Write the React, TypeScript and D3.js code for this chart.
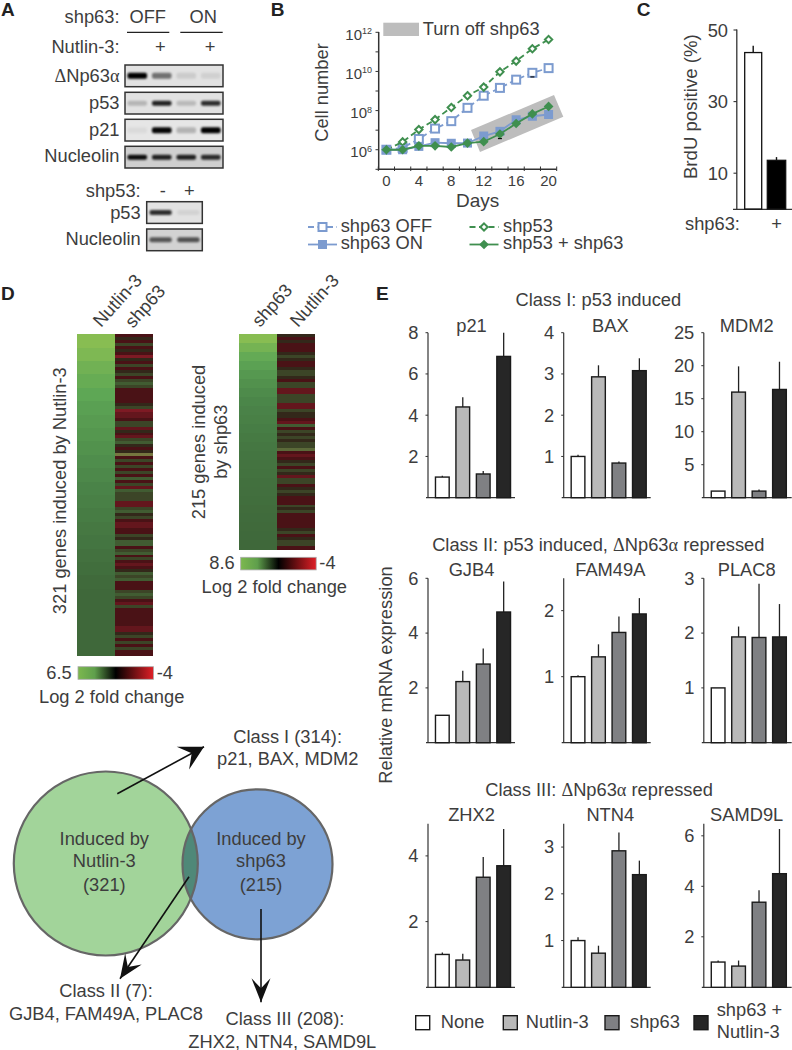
import * as d3 from 'd3'

const FONT = '"Liberation Sans", Arial, sans-serif'
const INK = '#3d3d3d'

// panel A, band strength per lane
const blotLanes = [0, 1, 2, 3]
const dnp63Bands = [1, 0.5, 0.1, 0.08]
const p53Bands = [0.2, 0.85, 0.18, 0.8]
const p21Bands = [0.05, 0.98, 0.22, 1]
const nucleolinBands = [0.95, 0.85, 0.85, 0.8]
const lowerLanes = [0, 1]
const lowerP53Bands = [0.8, 0.07]
const lowerNucleolinBands = [0.6, 0.62]

// panel B, log10 of cell number
const days = [0, 2, 4, 6, 8, 10, 12, 14, 16, 18, 20]
const shp63Off = [6, 6.1, 6.55, 7.08, 7.46, 8.14, 8.76, 9.16, 9.58, 9.93, 10.17]
const shp63On = [6, 6, 6.17, 6.36, 6.33, 6.34, 6.7, 6.94, 7.53, 7.71, 7.8]
const shp53 = [6, 6.4, 7.03, 7.54, 8.16, 8.76, 9.2, 9.98, 10.53, 11.16, 11.63]
const shp53Shp63 = [6, 6, 6.2, 6.2, 6.14, 6.34, 6.41, 6.8, 7.34, 7.83, 8.21]
const cellDecades = [5, 6, 7, 8, 9, 10, 11, 12]

// panel C
const brduValues = [43.7, 13.6]
const brduErr = [1.9, 0.9]
const brduTicks = [10, 30, 50]

// panel D, left columns are sorted fold change, right columns read stripe by stripe
const nutlinSorted = [6.5, 6.0, 5.4, 4.9, 4.5, 4.2, 4.0, 3.8, 3.6, 3.4, 3.2, 3.0, 2.8, 2.6, 2.4, 2.2, 2.0, 1.8, 1.6, 1.5, 1.5, 1.5, 1.5, 1.5]
const shp63Sorted = [8.6, 7.4, 6.3, 5.6, 5.1, 4.7, 4.4, 4.1, 3.9, 3.7, 3.5, 3.3, 3.1, 2.9, 2.8, 2.7, 2.6, 2.5, 2.4, 2.3, 2.2, 2.1, 2.05, 2.0]
const shp63InNutlinList = [
  -1, 0, -1, 1, -1, 0, -1, -2, 0, -1, 1, -1, 0, 1, -1, 1, 2, 1, -1, -1, -1, -1, -1, 0, 1, -2, -1.5, -1.5, -1, 1, 1, -1.5, 0, -1, -1.5, 1, 2, 0, -1, 0, 3, -1, 1, -1, 1, -1, 1, -1, 2, -1, 1, -1.5, 2, 1,
  1, 1, -1.5, -1.5, 1, 2, 0, 1, -1, -1.5, -1.5, -1, -1, 1, 0, 2, 2, -1, 1, 2, -1, 1, -1, -1.5, -1, 0, 2, 1, 2, -1, -1, -1, 1, 2, 1, -1, -1.5, 1, -1, -1, -1, -1, -1, -1, -1.5, -1.5, 0, 1, -1, 1, -1, 1, -1, -1,
]
const nutlinInShp63List = [
  0, -1, 0, -1, -1, -1, 0, 1, 0, -1, -1, 0, 1, 1, 0, -1, 1, 1, -1.5, -1.5, 1, 1, 1, -1.5, -1.5, 1, 0, 0, -1, -1.5, 2, -1, 1, 0, 1, 0, 1, 1, 2.5, -1, -1.5, -1, 0, 1, -1, 1, 0, -1.5, 1, 1, -1, 0, 1, 0, -1, -1, -1, 1, 0, 1, -1, -1, -1, -1, -1, 0, 1, -1, 0, 1, 1, -1,
]

// panel E
const barCategories = ['None', 'Nutlin-3', 'shp63', 'shp63 + Nutlin-3']
const barFills = ['#ffffff', '#b9b9b9', '#7f8083', '#262626']

const p21Vals = [1, 4.4, 1.15, 6.85]
const p21Err = [1.07, 4.87, 1.3, 8]
const baxVals = [1, 2.93, 0.84, 3.08]
const baxErr = [1.04, 3.21, 0.875, 3.38]
const mdm2Vals = [1, 16, 1, 16.4]
const mdm2Err = [1, 19.9, 1.25, 20.6]
const gjb4Vals = [1, 2.23, 2.87, 4.77]
const gjb4Err = [1, 2.63, 3.44, 5.88]
const fam49aVals = [1, 1.3, 1.67, 1.95]
const fam49aErr = [1.02, 1.49, 1.91, 2.19]
const plac8Vals = [1, 1.93, 1.92, 1.93]
const plac8Err = [1, 2.12, 2.9, 2.53]
const zhx2Vals = [1, 0.83, 3.35, 3.7]
const zhx2Err = [1.06, 1.02, 3.97, 4.82]
const ntn4Vals = [1, 0.73, 2.92, 2.41]
const ntn4Err = [1.07, 0.89, 3.31, 2.71]
const samd9lVals = [1, 0.84, 3.37, 4.5]
const samd9lErr = [1.06, 1.06, 3.84, 6.27]

function T({ x, y, children, size = 18.3, anchor = 'start', rotate, weight, fill = INK }: any) {
  return (
    <text
      x={x}
      y={y}
      fontSize={size}
      fontFamily={FONT}
      fontWeight={weight}
      textAnchor={anchor}
      fill={fill}
      transform={rotate != null ? `rotate(${rotate} ${x} ${y})` : undefined}
    >
      {children}
    </text>
  )
}

const Sym = ({ children }: any) => <tspan fontFamily='"Liberation Serif", serif'>{children}</tspan>

function Blot({ x, y, w, h, lanes, bands, bandH, bg }: any) {
  const lane = d3.scaleBand<number>().domain(lanes).range([x, x + w])
  return (
    <g>
      <rect x={x} y={y} width={w} height={h} fill={bg} />
      <g filter="url(#bandBlur)">
        {bands.map((b: number, i: number) => (
          <rect
            key={i}
            x={lane(i)! + lane.bandwidth() * 0.1}
            y={y + h / 2 - bandH / 2}
            width={lane.bandwidth() * 0.8}
            height={bandH}
            rx={2}
            fill="#000"
            opacity={b}
          />
        ))}
      </g>
      <rect x={x} y={y} width={w} height={h} fill="none" stroke="#333" strokeWidth={1.5} />
    </g>
  )
}

function PanelA() {
  const rows = [
    { y: 65, bands: dnp63Bands, bandH: 6, bg: '#e2e2e2' },
    { y: 92.3, bands: p53Bands, bandH: 5, bg: '#e2e2e2' },
    { y: 119.3, bands: p21Bands, bandH: 6, bg: '#e6e6e6' },
    { y: 146.3, bands: nucleolinBands, bandH: 5, bg: '#cfcfcf' },
  ]
  return (
    <g>
      <T x={1} y={16} size={19} weight="bold" fill="#222">A</T>
      <T x={119.5} y={23.3} anchor="end">shp63:</T>
      <T x={147.7} y={23.3} anchor="middle">OFF</T>
      <T x={203.3} y={23.3} anchor="middle">ON</T>
      <line x1={127} x2={169.3} y1={32.3} y2={32.3} stroke="#222" strokeWidth={1.3} />
      <line x1={180.3} x2={222.7} y1={32.3} y2={32.3} stroke="#222" strokeWidth={1.3} />
      <T x={119.5} y={53.3} anchor="end">Nutlin-3:</T>
      <T x={160.3} y={53.3} anchor="middle">+</T>
      <T x={210} y={53.3} anchor="middle">+</T>
      <T x={119.5} y={81.7} anchor="end"><Sym>Δ</Sym>Np63<Sym>α</Sym></T>
      <T x={119.5} y={109} anchor="end">p53</T>
      <T x={119.5} y={136} anchor="end">p21</T>
      <T x={119.5} y={162.3} anchor="end">Nucleolin</T>
      {rows.map((r) => (
        <Blot key={r.y} x={125} y={r.y} w={98} h={21.7} lanes={blotLanes} bands={r.bands} bandH={r.bandH} bg={r.bg} />
      ))}
      <T x={140.7} y={197.3} anchor="end">shp53:</T>
      <T x={162.7} y={197.3} anchor="middle">-</T>
      <T x={189.3} y={197.3} anchor="middle">+</T>
      <T x={140.7} y={219} anchor="end">p53</T>
      <T x={140.7} y={245} anchor="end">Nucleolin</T>
      <Blot x={146.7} y={201.7} w={55.6} h={21.7} lanes={lowerLanes} bands={lowerP53Bands} bandH={5} bg="#e2e2e2" />
      <Blot x={146.7} y={229} w={55.6} h={21.7} lanes={lowerLanes} bands={lowerNucleolinBands} bandH={5} bg="#d2d2d2" />
    </g>
  )
}

const BLUE = '#7c9bcf'
const GREEN = '#3f8f4f'

function Marker({ kind, x, y }: any) {
  if (kind === 'off') return <rect x={x - 4} y={y - 4} width={8} height={8} fill="#fff" stroke={BLUE} strokeWidth={2} />
  if (kind === 'on') return <rect x={x - 4.5} y={y - 4.5} width={9} height={9} fill={BLUE} />
  if (kind === 'hollow') return <path d={d3.symbol(d3.symbolDiamond2, 34)()!} transform={`translate(${x},${y})`} fill="#fff" stroke={GREEN} strokeWidth={2} />
  return <path d={d3.symbol(d3.symbolDiamond2, 60)()!} transform={`translate(${x},${y})`} fill={GREEN} />
}

function PanelB() {
  const xs = d3.scaleLinear().domain([-1, 21]).range([378.3, 556.7])
  const ys = d3.scaleLog().domain([1e5, 1e12]).range([169.3, 32.3])
  const line = d3
    .line<number>()
    .x((_, i) => xs(days[i]))
    .y((v) => ys(10 ** v))
  const series = [
    { vals: shp63Off, color: BLUE, dash: '6,3.5', kind: 'off' },
    { vals: shp53, color: GREEN, dash: '6,3.5', kind: 'hollow' },
    { vals: shp63On, color: BLUE, kind: 'on' },
    { vals: shp53Shp63, color: GREEN, kind: 'solid' },
  ]
  const bandBox = [
    [471, 130],
    [554, 95],
    [563.3, 116.7],
    [480, 152],
  ]
  const xEdges = d3.range(-1, 22, 2)
  return (
    <g>
      <T x={270.7} y={16} size={19} weight="bold" fill="#222">B</T>
      <rect x={383.3} y={22.7} width={35.7} height={13.3} fill="#bdbdbd" />
      <T x={422.7} y={35}>Turn off shp63</T>
      <polygon points={bandBox.join(' ')} fill="#bdbdbd" />
      <line x1={xs(-1)} x2={xs(21)} y1={169.3} y2={169.3} stroke="#333" strokeWidth={1.5} />
      <line x1={378.7} x2={378.7} y1={32} y2={170} stroke="#333" strokeWidth={1.5} />
      {xEdges.map((d) => (
        <line key={d} x1={xs(d)} x2={xs(d)} y1={166.5} y2={171} stroke="#333" strokeWidth={1} />
      ))}
      {cellDecades.map((d) => (
        <line key={d} x1={375.5} x2={379} y1={ys(10 ** d)} y2={ys(10 ** d)} stroke="#333" strokeWidth={1} />
      ))}
      {[6, 8, 10, 12].map((d) => (
        <text key={d} x={372} y={ys(10 ** d) + 7.5} textAnchor="end" fontFamily={FONT} fontSize={15} fill={INK}>
          10<tspan dy={-5.5} fontSize={9}>{d}</tspan>
        </text>
      ))}
      {[0, 4, 8, 12, 16, 20].map((d) => (
        <T key={d} x={xs(d)} y={186} size={15} anchor="middle">{d}</T>
      ))}
      <T x={477.7} y={207} size={19} anchor="middle">Days</T>
      <T x={328} y={92.5} anchor="middle" rotate={-90}>Cell number</T>
      {series.map((s) => (
        <g key={s.kind}>
          <path d={line(s.vals)!} fill="none" stroke={s.color} strokeWidth={1.8} strokeDasharray={s.dash} />
          {s.vals.map((v, i) => (
            <Marker key={i} kind={s.kind} x={xs(days[i])} y={ys(10 ** v)} />
          ))}
        </g>
      ))}
      <line x1={xs(18) - 2} x2={xs(18) + 2} y1={ys(10 ** 9.72)} y2={ys(10 ** 9.72)} stroke="#111" strokeWidth={1.2} />
      <line x1={xs(14) - 2} x2={xs(14) + 2} y1={ys(10 ** 6.57)} y2={ys(10 ** 6.57)} stroke="#111" strokeWidth={1.2} />
      {[
        { x: 322.5, y: 227, color: BLUE, dash: '6,3.5', kind: 'off', label: 'shp63 OFF', tx: 340.7, ty: 231.5 },
        { x: 322.5, y: 244.5, color: BLUE, kind: 'on', label: 'shp63 ON', tx: 340.7, ty: 249 },
        { x: 484, y: 227, color: GREEN, dash: '6,3.5', kind: 'hollow', label: 'shp53', tx: 503, ty: 231.5 },
        { x: 484, y: 244.5, color: GREEN, kind: 'solid', label: 'shp53 + shp63', tx: 503, ty: 249 },
      ].map((l) => (
        <g key={l.label}>
          <line x1={l.x - 14.5} x2={l.x + 14.5} y1={l.y} y2={l.y} stroke={l.color} strokeWidth={1.8} strokeDasharray={l.dash} />
          <Marker kind={l.kind} x={l.x} y={l.y} />
          <T x={l.tx} y={l.ty}>{l.label}</T>
        </g>
      ))}
    </g>
  )
}

function PanelC() {
  const y = d3.scaleLinear().domain([0, 50]).range([209, 30])
  const xBars = [744.7, 767.3]
  const widths = [17, 18.4]
  return (
    <g>
      <T x={636.7} y={16} size={19} weight="bold" fill="#222">C</T>
      <line x1={736.8} x2={736.8} y1={29.5} y2={209} stroke="#333" strokeWidth={1.3} />
      <line x1={733} x2={792} y1={209.3} y2={209.3} stroke="#333" strokeWidth={1.3} />
      {brduTicks.map((t) => (
        <g key={t}>
          <line x1={733.5} x2={737} y1={y(t)} y2={y(t)} stroke="#333" strokeWidth={1.1} />
          <T x={728} y={y(t) + 6.5} anchor="end">{t}</T>
        </g>
      ))}
      {brduValues.map((v, i) => (
        <g key={i}>
          <line x1={xBars[i] + widths[i] / 2} x2={xBars[i] + widths[i] / 2} y1={y(v + brduErr[i])} y2={y(v)} stroke="#111" strokeWidth={1.4} />
          <rect x={xBars[i]} y={y(v)} width={widths[i]} height={y(0) - y(v)} fill={i === 0 ? '#fff' : '#000'} stroke="#111" strokeWidth={1.3} />
        </g>
      ))}
      <T x={697} y={106.7} anchor="middle" rotate={-90} size={18.6}>BrdU positive (%)</T>
      <T x={685} y={230}>shp63:</T>
      <T x={776.7} y={230} anchor="middle">+</T>
    </g>
  )
}

const stripeColor = d3
  .scaleLinear<string>()
  .domain([-2, -1, 0, 1, 2, 3])
  .range(['#7e1a24', '#4a1216', '#33281a', '#3c4527', '#415c32', '#75763f'])

function foldGreen(max: number) {
  return d3
    .scaleLinear<string>()
    .domain([0.23, 0.46, 0.69, 1].map((f) => f * max))
    .range(['#3f683a', '#4a8348', '#5ea755', '#88bd52'])
    .clamp(true)
}

function Heatmap({ x, y, h, sorted, stripes, max }: any) {
  const colW = 38.2
  const rowSorted = d3.scaleBand<number>().domain(d3.range(sorted.length)).range([y, y + h])
  const rowStripe = d3.scaleBand<number>().domain(d3.range(stripes.length)).range([y, y + h])
  const green = foldGreen(max)
  return (
    <g shapeRendering="crispEdges">
      {sorted.map((v: number, i: number) => (
        <rect key={i} x={x} y={rowSorted(i)} width={colW} height={rowSorted.bandwidth() + 0.5} fill={green(v)} />
      ))}
      {stripes.map((v: number, i: number) => (
        <rect key={i} x={x + colW} y={rowStripe(i)} width={colW} height={rowStripe.bandwidth() + 0.5} fill={stripeColor(v)} />
      ))}
    </g>
  )
}

function ColorBar({ x, y, id }: any) {
  return <rect x={x} y={y} width={75.5} height={12.6} fill={`url(#${id})`} stroke="#aaa" strokeWidth={0.8} />
}

function stealth(from: number[], to: number[], half: number, len = 24, notch = 14) {
  const a = Math.atan2(to[1] - from[1], to[0] - from[0])
  const ux = Math.cos(a)
  const uy = Math.sin(a)
  const at = (back: number, side: number) => [to[0] - ux * back - uy * side, to[1] - uy * back + ux * side]
  return [at(0, 0), at(len, half), at(notch, 0), at(len, -half)].join(' ')
}

function PanelD() {
  const arrows = [
    { from: [117.3, 793.7], to: [204, 746.7], half: 13 },
    { from: [189, 876.7], to: [120, 978.7], half: 10 },
    { from: [261, 909], to: [261, 1002.3], half: 9.5 },
  ]
  return (
    <g>
      <T x={1} y={300} size={19} weight="bold" fill="#222">D</T>
      <T x={101} y={328} rotate={-48}>Nutlin-3</T>
      <T x={133} y={329} rotate={-48}>shp63</T>
      <T x={260} y={328} rotate={-48}>shp63</T>
      <T x={298} y={328} rotate={-48}>Nutlin-3</T>
      <Heatmap x={77} y={334.3} h={321.4} sorted={nutlinSorted} stripes={shp63InNutlinList} max={6.5} />
      <Heatmap x={239} y={334.3} h={215} sorted={shp63Sorted} stripes={nutlinInShp63List} max={8.6} />
      <T x={65.7} y={490.7} anchor="middle" rotate={-90}>321 genes induced by Nutlin-3</T>
      <T x={205} y={442} anchor="middle" rotate={-90}>215 genes induced</T>
      <T x={226.7} y={441.7} anchor="middle" rotate={-90}>by shp63</T>
      <ColorBar x={78} y={666.7} id="foldBar" />
      <T x={71.7} y={678.7} anchor="end">6.5</T>
      <T x={156.7} y={678.7}>-4</T>
      <T x={111.7} y={703.3} anchor="middle">Log 2 fold change</T>
      <ColorBar x={240.7} y={557.3} id="foldBar" />
      <T x={234.7} y={569.3} anchor="end">8.6</T>
      <T x={319.3} y={569.3}>-4</T>
      <T x={274.3} y={592.7} anchor="middle">Log 2 fold change</T>

      <circle cx={105.8} cy={863.5} r={92} fill="#a2d49a" />
      <circle cx={257.5} cy={864.3} r={75} fill="#7da2d4" />
      <circle cx={257.5} cy={864.3} r={75} fill="#4f8878" clipPath="url(#greenClip)" />
      <circle cx={105.8} cy={863.5} r={92} fill="none" stroke="#666" strokeWidth={2.2} />
      <circle cx={257.5} cy={864.3} r={75} fill="none" stroke="#666" strokeWidth={2.2} />
      <T x={104.3} y={845} anchor="middle">Induced by</T>
      <T x={104.3} y={866.7} anchor="middle">Nutlin-3</T>
      <T x={104.3} y={890.7} anchor="middle">(321)</T>
      <T x={261} y={845} anchor="middle">Induced by</T>
      <T x={261} y={866.7} anchor="middle">shp63</T>
      <T x={261} y={890.7} anchor="middle">(215)</T>
      {arrows.map((a) => (
        <g key={a.to[0]}>
          <line x1={a.from[0]} y1={a.from[1]} x2={a.to[0]} y2={a.to[1]} stroke="#111" strokeWidth={1.6} />
          <polygon points={stealth(a.from, a.to, a.half)} fill="#111" />
        </g>
      ))}
      <T x={287.7} y={742.7} anchor="middle">Class I (314):</T>
      <T x={287.7} y={765} anchor="middle">p21, BAX, MDM2</T>
      <T x={106} y={997.3} anchor="middle">Class II (7):</T>
      <T x={106} y={1020} anchor="middle">GJB4, FAM49A, PLAC8</T>
      <T x={285} y={1025} anchor="middle">Class III (208):</T>
      <T x={282.3} y={1048} anchor="middle">ZHX2, NTN4, SAMD9L</T>
    </g>
  )
}

function BarPanel({ axisX, top, bottom, yMax, ticks, vals, errs, title, titleX, titleY, xEnd }: any) {
  const y = d3.scaleLinear().domain([0, yMax]).range([bottom, top])
  const x = d3.scaleBand<number>().domain(d3.range(4)).range([axisX + 4, axisX + 86]).paddingInner(0.33).paddingOuter(0.17)
  return (
    <g>
      <T x={titleX} y={titleY} anchor="middle">{title}</T>
      <line x1={axisX} x2={axisX} y1={top} y2={bottom} stroke="#333" strokeWidth={1.2} />
      <line x1={axisX - 2} x2={xEnd} y1={bottom} y2={bottom} stroke="#333" strokeWidth={1.2} />
      {ticks.map((t: number) => (
        <g key={t}>
          <line x1={axisX - 2.5} x2={axisX} y1={y(t)} y2={y(t)} stroke="#333" strokeWidth={1} />
          <T x={axisX - 9.5} y={y(t) + 6.3} anchor="end">{t}</T>
        </g>
      ))}
      {vals.map((v: number, i: number) => (
        <g key={i}>
          {errs[i] > v && (
            <line x1={x(i)! + x.bandwidth() / 2} x2={x(i)! + x.bandwidth() / 2} y1={y(errs[i])} y2={y(v)} stroke="#222" strokeWidth={1.3} />
          )}
          <rect x={x(i)} y={y(v)} width={x.bandwidth()} height={bottom - y(v)} fill={barFills[i]} stroke="#1a1a1a" strokeWidth={1.4} />
        </g>
      ))}
    </g>
  )
}

function PanelE() {
  const cols = [428, 563.7, 703.8]
  const ends = [515, 650.7, 791.7]
  const titleXs = [471.5, 610.3, 746.7]
  const rows = [
    {
      top: 332.7,
      bottom: 497.7,
      titleY: 331.5,
      plots: [
        { title: 'p21', yMax: 8, ticks: [2, 4, 6, 8], vals: p21Vals, errs: p21Err },
        { title: 'BAX', yMax: 4, ticks: [1, 2, 3, 4], vals: baxVals, errs: baxErr },
        { title: 'MDM2', yMax: 25, ticks: [5, 10, 15, 20, 25], vals: mdm2Vals, errs: mdm2Err },
      ],
    },
    {
      top: 578.3,
      bottom: 742.7,
      titleY: 576,
      plots: [
        { title: 'GJB4', yMax: 6, ticks: [2, 4, 6], vals: gjb4Vals, errs: gjb4Err },
        { title: 'FAM49A', yMax: 2.49, ticks: [1, 2], vals: fam49aVals, errs: fam49aErr },
        { title: 'PLAC8', yMax: 3, ticks: [1, 2, 3], vals: plac8Vals, errs: plac8Err },
      ],
    },
    {
      top: 823.7,
      bottom: 987.3,
      titleY: 821,
      plots: [
        { title: 'ZHX2', yMax: 4.98, ticks: [2, 4], vals: zhx2Vals, errs: zhx2Err },
        { title: 'NTN4', yMax: 3.5, ticks: [1, 2, 3], vals: ntn4Vals, errs: ntn4Err },
        { title: 'SAMD9L', yMax: 6.48, ticks: [2, 4, 6], vals: samd9lVals, errs: samd9lErr },
      ],
    },
  ]
  const legend = [
    { x: 415.7, tx: 440.7 },
    { x: 503.3, tx: 525.7 },
    { x: 605, tx: 630 },
    { x: 694, tx: 716.7 },
  ]
  return (
    <g>
      <T x={376} y={300} size={19} weight="bold" fill="#222">E</T>
      <T x={598.3} y={306} anchor="middle">Class I: p53 induced</T>
      <T x={598.3} y={551} anchor="middle">Class II: p53 induced, <Sym>Δ</Sym>Np63<Sym>α</Sym> repressed</T>
      <T x={599} y={795.7} anchor="middle">Class III: <Sym>Δ</Sym>Np63<Sym>α</Sym> repressed</T>
      <T x={392} y={675} anchor="middle" rotate={-90}>Relative mRNA expression</T>
      {rows.map((r) =>
        r.plots.map((p, c) => (
          <BarPanel
            key={p.title}
            axisX={cols[c]}
            xEnd={ends[c]}
            top={r.top}
            bottom={r.bottom}
            yMax={p.yMax}
            ticks={p.ticks}
            vals={p.vals}
            errs={p.errs}
            title={p.title}
            titleX={titleXs[c]}
            titleY={r.titleY}
          />
        )),
      )}
      {barCategories.map((c, i) => (
        <g key={c}>
          <rect x={legend[i].x} y={1015.7} width={14} height={14} fill={barFills[i]} stroke="#1a1a1a" strokeWidth={1.4} />
          {i < 3 ? (
            <T x={legend[i].tx} y={1028}>{c}</T>
          ) : (
            <>
              <T x={legend[i].tx} y={1015.7}>shp63 +</T>
              <T x={legend[i].tx} y={1037.7}>Nutlin-3</T>
            </>
          )}
        </g>
      ))}
    </g>
  )
}

export default function App() {
  return (
    <svg width={792} height={1050} viewBox="0 0 792 1050" style={{ position: 'absolute', left: 0, top: 0, background: '#fff' }}>
      <defs>
        <filter id="bandBlur" x="-20%" y="-50%" width="140%" height="200%">
          <feGaussianBlur stdDeviation="1.3" />
        </filter>
        <linearGradient id="foldBar">
          <stop offset="0" stopColor="#7cb84e" />
          <stop offset="0.22" stopColor="#5f9f4c" />
          <stop offset="0.5" stopColor="#000" />
          <stop offset="1" stopColor="#e01f26" />
        </linearGradient>
        <clipPath id="greenClip">
          <circle cx={105.8} cy={863.5} r={92} />
        </clipPath>
      </defs>
      <PanelA />
      <PanelB />
      <PanelC />
      <PanelD />
      <PanelE />
    </svg>
  )
}
